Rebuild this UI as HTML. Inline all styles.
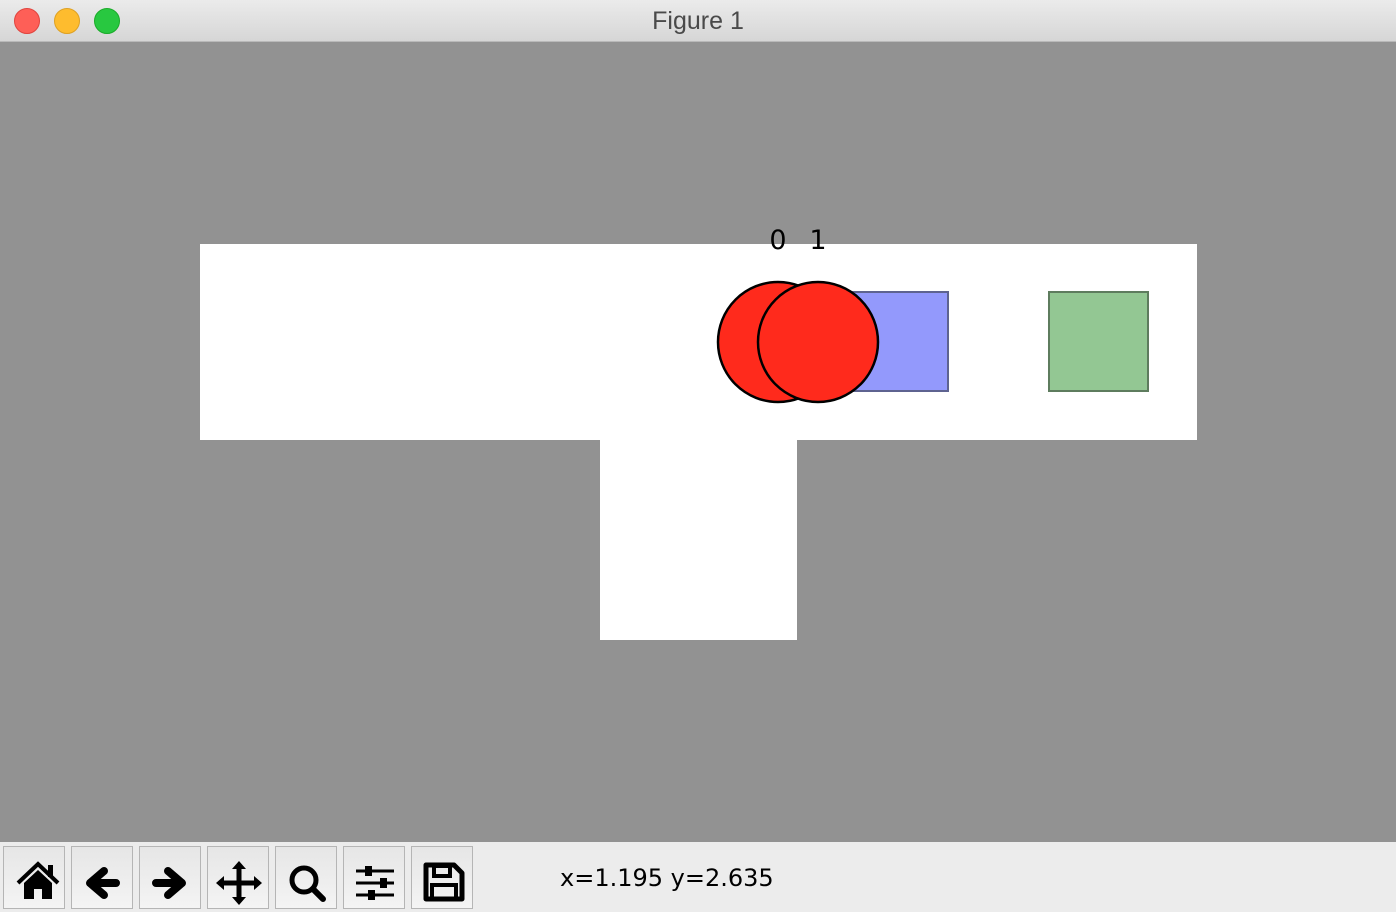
<!DOCTYPE html>
<html><head><meta charset="utf-8">
<style>
body{margin:0;width:1396px;height:910px;overflow:hidden;font-family:"Liberation Sans",sans-serif;background:#ececec}
#titlebar{position:absolute;left:0;top:0;width:1396px;height:41px;background:linear-gradient(#ebebeb,#d6d6d6);border-bottom:1px solid #b9b9b9;text-align:center;line-height:42px;font-size:25px;color:#4a4a4a}
.tl{position:absolute;top:8px;width:24px;height:24px;border-radius:50%}
#fig{position:absolute;left:0;top:42px;width:1396px;height:800px;background:#929292}
#toolbar{position:absolute;left:0;top:842px;width:1396px;height:68px;background:#ececec}
.tb{position:absolute;top:4px;width:62px;height:63px;border:1px solid #b5b5b5;background:linear-gradient(#e6e6e6,#f4f4f4);box-sizing:border-box}
#coords{position:absolute;left:560px;top:864px;font-size:24px;font-family:"DejaVu Sans",sans-serif;color:#000}
</style></head><body>
<div id="titlebar">Figure 1
<div class="tl" style="left:14px;background:#fe5f57;border:1px solid #e0443e"></div>
<div class="tl" style="left:54px;background:#febc2e;border:1px solid #dea123"></div>
<div class="tl" style="left:94px;background:#28c840;border:1px solid #1aab29"></div>
</div>
<div id="fig">
<svg id="chart" width="1396" height="800"></svg>
</div>
<div id="toolbar">
<div class="tb" style="left:3px"><svg width="60" height="60" viewBox="0 0 60 60"><path d="M14 36 L34 17 L54 36" fill="none" stroke="#000" stroke-width="4"/><path d="M20 36 L34 23 L48 36 V52 H38 V42 H30 V52 H20Z" fill="#000"/><rect x="44" y="18" width="5" height="12" fill="#000"/></svg></div>
<div class="tb" style="left:71px"><svg width="60" height="60" viewBox="0 0 60 60"><path d="M44 36 H22 M32 24 L18 36 L32 48" fill="none" stroke="#000" stroke-width="8" stroke-linecap="round" stroke-linejoin="round"/></svg></div>
<div class="tb" style="left:139px"><svg width="60" height="60" viewBox="0 0 60 60"><path d="M16 36 H38 M28 24 L42 36 L28 48" fill="none" stroke="#000" stroke-width="8" stroke-linecap="round" stroke-linejoin="round"/></svg></div>
<div class="tb" style="left:207px"><svg width="60" height="60" viewBox="0 0 60 60"><path d="M31 18 V54 M12 36 H50" stroke="#000" stroke-width="5"/><path d="M31 14 L24 22 H38Z M31 58 L24 50 H38Z M8 36 L16 29 V43Z M54 36 L46 29 V43Z" fill="#000"/></svg></div>
<div class="tb" style="left:275px"><svg width="60" height="60" viewBox="0 0 60 60"><circle cx="28" cy="33" r="12" fill="none" stroke="#000" stroke-width="5"/><path d="M37 42 L47 52" stroke="#000" stroke-width="6" stroke-linecap="round"/></svg></div>
<div class="tb" style="left:343px"><svg width="60" height="60" viewBox="0 0 60 60"><path d="M12 24H50M12 36H50M12 48H50" stroke="#000" stroke-width="3"/><rect x="21" y="19" width="7" height="10" fill="#000"/><rect x="36" y="31" width="7" height="10" fill="#000"/><rect x="24" y="43" width="7" height="10" fill="#000"/></svg></div>
<div class="tb" style="left:411px"><svg width="60" height="60" viewBox="0 0 60 60"><path d="M14 18 H42 L50 26 V52 H14Z" fill="none" stroke="#000" stroke-width="5" stroke-linejoin="round"/><rect x="22" y="19" width="16" height="10" fill="none" stroke="#000" stroke-width="4"/><rect x="20" y="38" width="24" height="14" fill="none" stroke="#000" stroke-width="4"/></svg></div>
</div>
<div id="coords">x=1.195 y=2.635</div>
<script>
// data (grid units, 1 unit = 100px; y measured downward from figure top)
const floorRects = [[2,2.02,9.97,1.96],[6,3.98,1.97,2.0]]; // x,y,w,h
const boxX = [8.98,10.98];
const boxY = [2.5,2.5];
const boxColors = ['#9399fc','#93c793'];
const boxStroke = ['#5e6390','#5e7c5e'];
const agentX = [7.78,8.18];
const agentY = [3.0,3.0];
const agentLabels = ['0','1'];
const agentR = 0.6;
function X(v){return v*100;}
function Y(v){return v*100;}
const svg=document.getElementById('chart');
const NS='http://www.w3.org/2000/svg';
function mk(t,a){const e=document.createElementNS(NS,t);for(const k in a)e.setAttribute(k,a[k]);svg.appendChild(e);return e;}
floorRects.forEach((r,i)=>{
  const e=mk('rect',{x:X(r[0]),y:Y(r[1]),width:X(r[2]),height:Y(r[3]),fill:'#fff'});
  
  
});
boxX.forEach((bx,i)=>{
  const e=mk('rect',{x:X(bx-0.5)+1,y:Y(boxY[i]),width:99,height:99,fill:boxColors[i],stroke:boxStroke[i],'stroke-width':2});
  
  
});
agentX.forEach((ax,i)=>{
  const c=mk('circle',{cx:X(ax),cy:Y(agentY[i]),r:X(agentR),fill:'#ff2a1c',stroke:'#000','stroke-width':2.5});
  
  
  const t=mk('text',{x:X(ax),y:Y(agentY[i])-93,'text-anchor':'middle','font-size':27,'font-family':'DejaVu Sans, sans-serif',fill:'#000'});
  t.textContent=agentLabels[i];
  
  
});
</script>
</body></html>
